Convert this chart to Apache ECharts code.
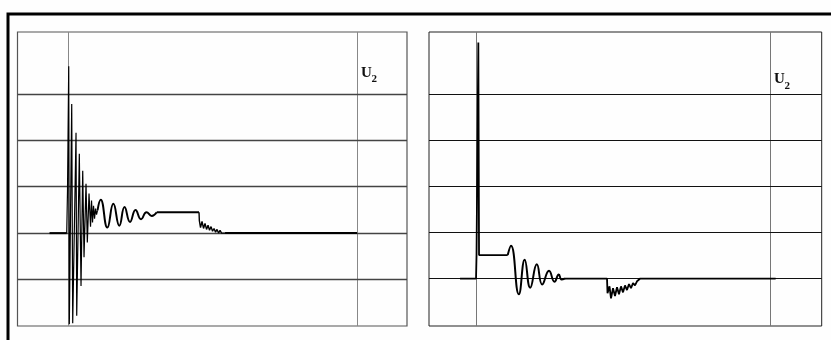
<!DOCTYPE html>
<html>
<head>
<meta charset="utf-8">
<script src="https://cdn.jsdelivr.net/npm/echarts@6/dist/echarts.min.js"></script>
<style>
  html, body { margin: 0; padding: 0; background: #fff; }
  #chart { width: 831px; height: 340px; }
</style>
</head>
<body>
<div id="chart"></div>
<script>
// Time axis: 0 and 100 are the two marker instants (vertical lines); values in relative units.
// ---- Left oscillogram (U2) ----
const leftLeadT = [-6.51, -0.55];
const leftLeadV = [0, 0];

// fast, large-amplitude ringing right after switching
const leftRingT = [-0.55, -0.28, 0.14, 0.35, 1.18, 1.52, 2.67, 2.91, 3.81, 4.40, 4.99, 5.44, 6.13, 6.58, 7.17, 7.69, 8.04, 8.38, 8.73, 9.08, 9.42, 9.77, 10.11];
const leftRingV = [0, 0.91, 3.59, -1.96, 2.78, -1.94, 2.16, -1.78, 1.71, -1.14, 1.34, -0.52, 1.06, -0.20, 0.85, 0.14, 0.70, 0.23, 0.59, 0.31, 0.53, 0.40, 0.49];

// slower damped oscillation settling to the plateau
const leftDampT = [10.11, 11.22, 13.51, 15.59, 17.67, 19.47, 21.37, 23.28, 25.18, 27.09, 28.89, 30.62];
const leftDampV = [0.49, 0.72, 0.12, 0.63, 0.16, 0.56, 0.24, 0.50, 0.30, 0.45, 0.37, 0.45];

// plateau
const leftPlateauT = [30.62, 45.27];
const leftPlateauV = [0.45, 0.45];

// noisy decay back to zero
const leftNoiseT = [45.27, 45.38, 45.79, 46.31, 46.83, 47.35, 47.87, 48.39, 48.91, 49.43, 49.95, 50.47, 50.99, 51.51, 52.03, 52.55, 53.07, 53.58, 54.28];
const leftNoiseV = [0.45, 0.27, 0.12, 0.25, 0.10, 0.21, 0.08, 0.17, 0.06, 0.14, 0.04, 0.10, 0.02, 0.08, 0, 0.06, 0, 0.04, 0];

// zero level up to the second marker
const leftZeroT = [54.28, 100];
const leftZeroV = [0, 0];

// ---- Right oscillogram (U2) ----
const rightHeadT = [-5.44, 0, 0.17, 0.78, 1.02, 10.78];
const rightHeadV = [0, 0, 0.51, 5.12, 0.51, 0.51];

const rightDampT = [10.78, 11.90, 14.56, 16.56, 18.44, 20.68, 22.52, 24.83, 26.70, 28.16, 29.08, 30.27];
const rightDampV = [0.51, 0.71, -0.34, 0.41, -0.20, 0.31, -0.13, 0.17, -0.07, 0.09, -0.02, 0];

const rightTailT = [30.27, 44.56, 44.73, 45.41, 45.92, 46.60, 47.28, 47.96, 48.64, 49.32, 50.00, 50.68, 51.36, 52.04, 52.72, 53.40, 54.08, 54.76, 55.27, 55.88, 101.94];
const rightTailV = [0, 0, -0.32, -0.17, -0.43, -0.21, -0.38, -0.19, -0.34, -0.17, -0.30, -0.15, -0.25, -0.12, -0.21, -0.10, -0.15, -0.06, -0.08, 0, 0];

// marker instants and horizontal grid levels
const markerTimes = [0, 100];
const leftLevels = [-1, 0, 1, 2, 3];
const rightLevels = [0, 1, 2, 3, 4];
const traceLabel = 'U';
const traceIndex = '2';

const pairs = (t, v) => t.map((x, i) => [x, v[i]]);

function trace(gridIdx, t, v, width, smooth) {
  return {
    type: 'line', xAxisIndex: gridIdx, yAxisIndex: gridIdx,
    data: pairs(t, v), showSymbol: false, symbol: 'none',
    smooth: smooth || false, z: 5, silent: true,
    lineStyle: { color: '#000', width: width }
  };
}

function gridLines(gridIdx, levels, hColor, hWidth, vColor) {
  const data = [];
  markerTimes.forEach(t => data.push({ xAxis: t, lineStyle: { color: vColor, width: 1, type: 'solid' } }));
  levels.forEach(l => data.push({ yAxis: l, lineStyle: { color: hColor, width: hWidth, type: 'solid' } }));
  return {
    type: 'line', xAxisIndex: gridIdx, yAxisIndex: gridIdx, data: [], z: 1, silent: true,
    markLine: { silent: true, symbol: ['none', 'none'], label: { show: false }, animation: false, data: data }
  };
}

const hiddenAxis = { show: false, splitLine: { show: false } };
const labelFont = '"Liberation Serif", "DejaVu Serif", serif';

const chart = echarts.init(document.getElementById('chart'), null, { renderer: 'canvas' });
chart.setOption({
  animation: false,
  backgroundColor: '#fefefe',
  grid: [
    { left: 17.5, top: 32, right: 424, bottom: 14, show: true, borderColor: '#555', borderWidth: 1.2, backgroundColor: 'transparent' },
    { left: 429, top: 32, right: 9.3, bottom: 14, show: true, borderColor: '#222', borderWidth: 1, backgroundColor: 'transparent' }
  ],
  xAxis: [
    Object.assign({ type: 'value', gridIndex: 0, min: -17.6, max: 117.3 }, hiddenAxis),
    Object.assign({ type: 'value', gridIndex: 1, min: -16, max: 117.6 }, hiddenAxis)
  ],
  yAxis: [
    Object.assign({ type: 'value', gridIndex: 0, min: -2, max: 4.33 }, hiddenAxis),
    Object.assign({ type: 'value', gridIndex: 1, min: -1.03, max: 5.35 }, hiddenAxis)
  ],
  graphic: [
    { type: 'rect', shape: { x: 8, y: 14, width: 840, height: 340 }, style: { fill: 'none', stroke: '#000', lineWidth: 3 }, z: 10 },
    { type: 'text', x: 361, y: 81, style: { text: traceLabel, fontFamily: labelFont, fontWeight: 'bold', fontSize: 15, fill: '#111', verticalAlign: 'bottom' }, z: 10 },
    { type: 'text', x: 371.5, y: 85, style: { text: traceIndex, fontFamily: labelFont, fontWeight: 'bold', fontSize: 11, fill: '#111', verticalAlign: 'bottom' }, z: 10 },
    { type: 'text', x: 774, y: 87, style: { text: traceLabel, fontFamily: labelFont, fontWeight: 'bold', fontSize: 15, fill: '#111', verticalAlign: 'bottom' }, z: 10 },
    { type: 'text', x: 784.5, y: 92, style: { text: traceIndex, fontFamily: labelFont, fontWeight: 'bold', fontSize: 11, fill: '#111', verticalAlign: 'bottom' }, z: 10 }
  ],
  series: [
    gridLines(0, leftLevels, '#444', 1.3, '#888'),
    trace(0, leftLeadT, leftLeadV, 2),
    trace(0, leftRingT, leftRingV, 1.2),
    trace(0, leftDampT, leftDampV, 2, 0.5),
    trace(0, leftPlateauT, leftPlateauV, 2),
    trace(0, leftNoiseT, leftNoiseV, 1.4),
    trace(0, leftZeroT, leftZeroV, 2),
    gridLines(1, rightLevels, '#111', 1, '#777'),
    trace(1, rightHeadT, rightHeadV, 1.8),
    trace(1, rightDampT, rightDampV, 2, 0.5),
    trace(1, rightTailT, rightTailV, 1.8)
  ]
});
</script>
</body>
</html>
